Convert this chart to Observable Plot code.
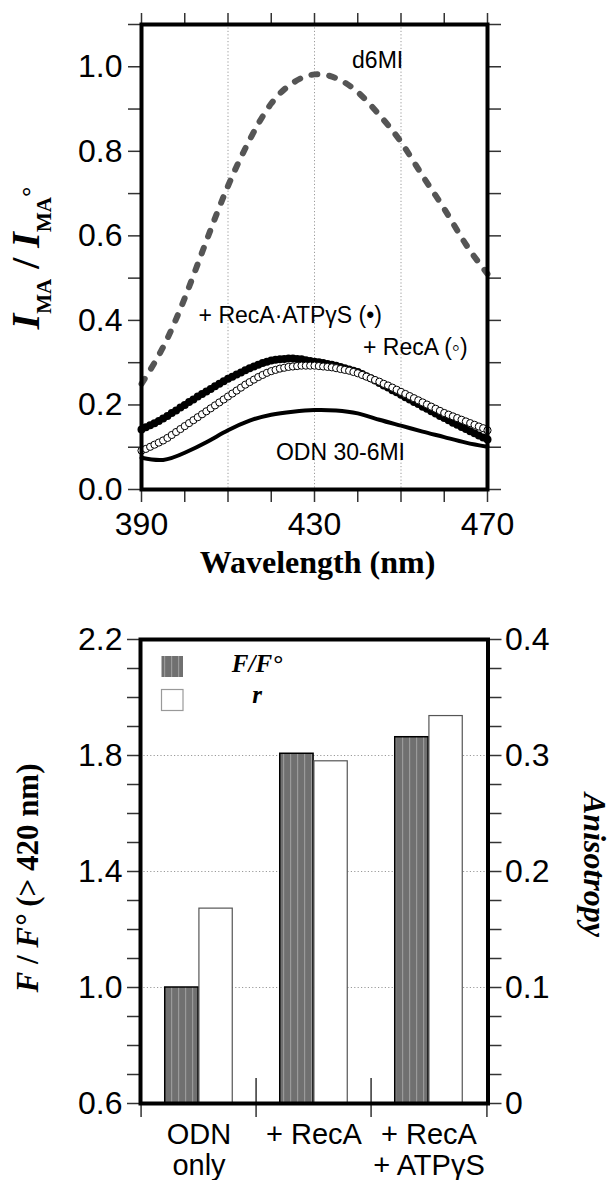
<!DOCTYPE html>
<html><head><meta charset="utf-8">
<script src="https://cdn.jsdelivr.net/npm/d3@7"></script>
<script src="https://cdn.jsdelivr.net/npm/@observablehq/plot@0.6"></script>
<style>
html,body{margin:0;padding:0;background:#fff;}
#wrap{width:613px;height:1180px;overflow:hidden;position:relative;background:#fff;}
#wrap svg{display:block;}
</style></head><body><div id="wrap"></div>
<script>
// ---------- Top panel data: emission spectra ----------
const wlCoarse = [390,395,400,405,410,415,420,425,430,435,440,445,450,455,460,465,470];
const d6MI = [0.250,0.337,0.453,0.588,0.718,0.827,0.913,0.962,0.982,0.973,0.940,0.886,0.822,0.742,0.664,0.580,0.510];
const odn306MI = [0.075,0.070,0.087,0.112,0.140,0.163,0.177,0.184,0.188,0.187,0.180,0.165,0.151,0.137,0.124,0.111,0.101];
const wlFine = d3.range(390, 471, 1);
const recA = [0.092,0.096,0.101,0.106,0.111,0.116,0.122,0.129,0.136,0.143,0.150,0.157,0.164,0.171,0.178,0.185,0.192,0.199,0.206,0.213,
  0.220,0.227,0.234,0.241,0.248,0.254,0.260,0.266,0.271,0.276,0.280,0.283,0.286,0.288,0.290,0.291,0.292,0.293,0.293,0.293,
  0.293,0.292,0.291,0.290,0.289,0.287,0.285,0.283,0.281,0.278,0.275,0.271,0.267,0.263,0.259,0.255,0.250,0.246,0.241,0.236,
  0.231,0.226,0.221,0.216,0.211,0.206,0.201,0.196,0.191,0.186,0.181,0.177,0.173,0.169,0.165,0.161,0.157,0.153,0.149,0.145,0.140];
const recAATP = [0.142,0.147,0.152,0.157,0.162,0.168,0.174,0.181,0.187,0.194,0.200,0.207,0.213,0.220,0.226,0.232,0.238,0.244,0.250,0.256,
  0.262,0.267,0.272,0.277,0.282,0.287,0.291,0.295,0.299,0.302,0.305,0.307,0.308,0.309,0.310,0.310,0.309,0.308,0.306,0.304,
  0.302,0.301,0.299,0.297,0.295,0.293,0.290,0.287,0.284,0.281,0.278,0.273,0.268,0.263,0.258,0.252,0.246,0.241,0.235,0.230,
  0.224,0.218,0.213,0.207,0.202,0.196,0.191,0.185,0.180,0.174,0.169,0.164,0.158,0.153,0.148,0.143,0.138,0.133,0.128,0.123,0.118];
const xTickLabels = [390, 430, 470];
const yTickLabelsTop = [0, 0.2, 0.4, 0.6, 0.8, 1.0];
const gridWl = [410, 430, 450];
const topLabels = ["d6MI", "+ RecA\u00B7ATP\u03B3S (\u2022)", "+ RecA (\u25E6)", "ODN 30-6MI"];

// ---------- Bottom panel data: bars ----------
const categories = ["ODN only", "+ RecA", "+ RecA + ATP\u03B3S"];
const categoryLabels = ["ODN\nonly", "+ RecA", "+ RecA\n+ ATP\u03B3S"];
const fRatio = [1.00, 1.806, 1.863];
const anisotropy = [0.168, 0.295, 0.334];
const leftTickLabels = [0.6, 1.0, 1.4, 1.8, 2.2];
const rightTickLabels = ["0", "0.1", "0.2", "0.3", "0.4"];
const gridF = [1.0, 1.4, 1.8];

const sans = "'Liberation Sans', Arimo, Arial, Helvetica, sans-serif";
const serif = "'Liberation Serif', 'Times New Roman', Times, serif";
const tickColor = "#333";

// ---------------- TOP CHART ----------------
const lineRows = (vals) => wlCoarse.map((w, i) => ({wl: w, v: vals[i]}));
const fineRows = (vals) => wlFine.map((w, i) => ({wl: w, v: vals[i]}));
const xMinor = d3.range(390, 471, 10);
const yMinorTop = d3.range(0, 12).map(i => i / 10);

const topChart = Plot.plot({
  width: 613, height: 600,
  marginTop: 24, marginBottom: 111, marginLeft: 141, marginRight: 126,
  style: {fontFamily: sans, fontSize: "32px", color: "#000", background: "#fff", overflow: "visible"},
  x: {domain: [390, 470]},
  y: {domain: [0, 1.1]},
  marks: [
    Plot.ruleX(gridWl, {stroke: "#9a9a9a", strokeWidth: 1, strokeDasharray: "1.2,2.2"}),
    Plot.line(lineRows(d6MI), {x: "wl", y: "v", curve: "natural", stroke: "#555", strokeWidth: 6, strokeDasharray: "6,12", strokeLinecap: "round"}),
    Plot.line(lineRows(odn306MI), {x: "wl", y: "v", curve: "natural", stroke: "#000", strokeWidth: 4}),
    Plot.dot(fineRows(recAATP), {x: "wl", y: "v", r: 4, fill: "#000", stroke: "none"}),
    Plot.dot(fineRows(recA), {x: "wl", y: "v", r: 3.6, fill: "#fff", stroke: "#000", strokeWidth: 1}),
    Plot.text([topLabels[0]], {x: 444.6, y: 0.996, fontSize: 23, textAnchor: "middle", lineAnchor: "bottom", fill: "#000"}),
    Plot.text([topLabels[1]], {x: 424.4, y: 0.393, fontSize: 23, textAnchor: "middle", lineAnchor: "bottom", fill: "#000"}),
    Plot.text([topLabels[2]], {x: 453.3, y: 0.319, fontSize: 23, textAnchor: "middle", lineAnchor: "bottom", fill: "#000"}),
    Plot.text([topLabels[3]], {x: 436.0, y: 0.069, fontSize: 23, textAnchor: "middle", lineAnchor: "bottom", fill: "#000"}),
    Plot.text(["Wavelength (nm)"], {frameAnchor: "bottom", dx: 3, dy: 83, lineAnchor: "bottom", fontFamily: serif, fontWeight: "bold", fontSize: 32, fill: "#000"}),
    Plot.axisX(xMinor, {anchor: "bottom", tickSize: 13, tickPadding: 10, stroke: tickColor, strokeWidth: 1.5, fill: "#000",
      tickFormat: d => xTickLabels.includes(d) ? String(d) : "", label: null}),
    Plot.axisX(xMinor, {anchor: "top", tickSize: 12, stroke: tickColor, strokeWidth: 1.5, tickFormat: () => "", label: null}),
    Plot.axisY(yMinorTop, {anchor: "left", tickSize: 13, tickPadding: 6, stroke: tickColor, strokeWidth: 1.5, fill: "#000",
      tickFormat: d => yTickLabelsTop.some(t => Math.abs(t - d) < 1e-9) ? d3.format(".1f")(d) : "", label: null}),
    Plot.axisY(yMinorTop, {anchor: "right", tickSize: 13, stroke: tickColor, strokeWidth: 1.5, tickFormat: () => "", label: null}),
    Plot.frame({stroke: "#000", strokeWidth: 4})
  ]
});

{
  const s = d3.select(topChart);
  const t = s.append("text")
    .attr("transform", "translate(39,258) rotate(-90)")
    .attr("text-anchor", "middle")
    .attr("font-family", serif).attr("font-weight", "bold").attr("font-size", 40).attr("fill", "#000");
  t.append("tspan").attr("font-style", "italic").text("I");
  t.append("tspan").attr("font-size", 21).attr("dy", 12).text("MA");
  t.append("tspan").attr("dy", -12).text(" / ");
  t.append("tspan").attr("font-style", "italic").text("I");
  t.append("tspan").attr("font-size", 21).attr("dy", 12).text("MA");
  t.append("tspan").attr("font-size", 26).attr("dy", -12).text("\u00B0");
}

// ---------------- BOTTOM CHART ----------------
const bMarginLeft = 140, bMarginRight = 125.5;
const bw = (613 - bMarginLeft - bMarginRight) / categories.length;
const sidePad = 0.205 * bw, barW = 0.295 * bw;
const fRows = categories.map((c, i) => ({cat: c, v: fRatio[i]}));
// anisotropy (right axis, 0..0.4) mapped onto left scale (0.6..2.2)
const rRows = categories.map((c, i) => ({cat: c, v: 0.6 + anisotropy[i] * 4}));
const yMinorB = d3.range(6, 23).map(i => i / 10);
const catLabel = new Map(categories.map((c, i) => [c, categoryLabels[i]]));
const rightLabel = new Map(leftTickLabels.map((v, i) => [v, rightTickLabels[i]]));
const findMajor = d => leftTickLabels.find(t => Math.abs(t - d) < 1e-9);

const bottomChart = Plot.plot({
  width: 613, height: 580,
  marginTop: 39, marginBottom: 77, marginLeft: bMarginLeft, marginRight: bMarginRight,
  style: {fontFamily: sans, fontSize: "32px", color: "#000", background: "#fff", overflow: "visible"},
  x: {domain: categories, padding: 0},
  y: {domain: [0.6, 2.2]},
  marks: [
    Plot.ruleY(gridF, {stroke: "#9a9a9a", strokeWidth: 1, strokeDasharray: "1.2,2.2"}),
    Plot.barY(fRows, {x: "cat", y1: 0.6, y2: "v", insetLeft: sidePad, insetRight: sidePad + barW, fill: "url(#stripes)", stroke: "#000", strokeWidth: 1.5}),
    Plot.barY(rRows, {x: "cat", y1: 0.6, y2: "v", insetLeft: sidePad + barW, insetRight: sidePad, fill: "#fff", stroke: "#555", strokeWidth: 1.2}),
    Plot.ruleX(categories, {x: d => d, dx: -bw / 2, insetTop: 439, insetBottom: -14, stroke: tickColor, strokeWidth: 1.5}),
    Plot.ruleX([categories[categories.length - 1]], {x: d => d, dx: bw / 2, insetTop: 464, insetBottom: -14, stroke: tickColor, strokeWidth: 1.5}),
    Plot.axisX({anchor: "bottom", tickSize: 0, tickPadding: 19, lineHeight: 1.05, fontSize: 29, fill: "#000", tickFormat: d => catLabel.get(d), label: null}),
    Plot.axisY(yMinorB, {anchor: "left", tickSize: 13, tickPadding: 5, stroke: tickColor, strokeWidth: 1.5, fill: "#000",
      tickFormat: d => { const m = findMajor(d); return m === undefined ? "" : d3.format(".1f")(m); }, label: null}),
    Plot.axisY(yMinorB, {anchor: "right", tickSize: 13, tickPadding: 4, stroke: tickColor, strokeWidth: 1.5, fill: "#000",
      tickFormat: d => { const m = findMajor(d); return m === undefined ? "" : rightLabel.get(m); }, label: null}),
    Plot.frame({stroke: "#000", strokeWidth: 4})
  ]
});

{
  const s = d3.select(bottomChart);
  const defs = s.insert("defs", ":first-child");
  const pat = defs.append("pattern").attr("id", "stripes").attr("patternUnits", "userSpaceOnUse").attr("width", 7).attr("height", 10);
  pat.append("rect").attr("width", 7).attr("height", 10).attr("fill", "#707070");
  pat.append("rect").attr("x", 3).attr("width", 1.2).attr("height", 10).attr("fill", "#9a9a9a");

  // legend
  s.append("rect").attr("x", 161.5).attr("y", 56).attr("width", 21.5).attr("height", 21).attr("fill", "url(#stripes)");
  s.append("rect").attr("x", 161.5).attr("y", 89.5).attr("width", 21.5).attr("height", 21).attr("fill", "#fff").attr("stroke", "#999").attr("stroke-width", 1.2);
  s.append("text").attr("x", 257).attr("y", 72).attr("font-family", serif).attr("font-weight", "bold").attr("font-style", "italic").attr("font-size", 25).attr("fill", "#000").text("F/F\u00B0");
  s.append("text").attr("x", 257).attr("y", 103).attr("font-family", serif).attr("font-weight", "bold").attr("font-style", "italic").attr("font-size", 25).attr("fill", "#000").text("r");

  // left axis title
  const t = s.append("text")
    .attr("transform", "translate(38,278) rotate(-90)")
    .attr("text-anchor", "middle")
    .attr("font-family", serif).attr("font-weight", "bold").attr("font-size", 31).attr("fill", "#000");
  t.append("tspan").attr("font-style", "italic").text("F");
  t.append("tspan").text(" / ");
  t.append("tspan").attr("font-style", "italic").text("F\u00B0");
  t.append("tspan").text(" (> 420 nm)");

  // right axis title
  s.append("text")
    .attr("transform", "translate(584,265) rotate(90)")
    .attr("text-anchor", "middle")
    .attr("font-family", serif).attr("font-weight", "bold").attr("font-style", "italic").attr("font-size", 32).attr("fill", "#000")
    .text("Anisotropy");
}

const wrap = document.getElementById("wrap");
wrap.appendChild(topChart);
wrap.appendChild(bottomChart);
</script>
</body></html>
